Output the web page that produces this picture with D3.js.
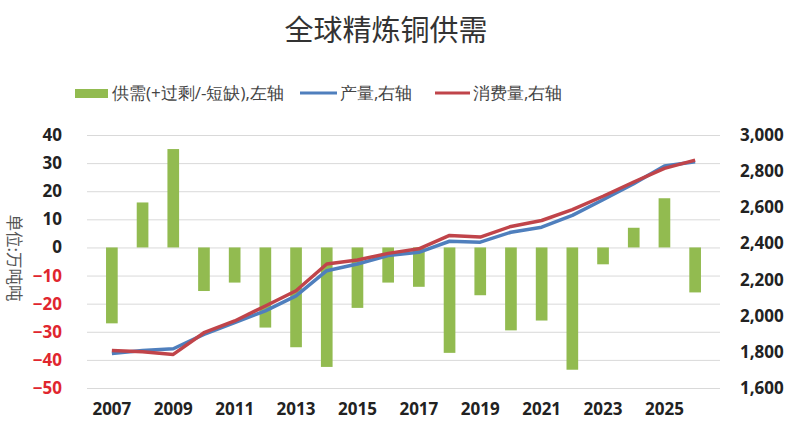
<!DOCTYPE html>
<html>
<head>
<meta charset="utf-8">
<script src="https://cdn.jsdelivr.net/npm/d3@7"></script>
<style>
  body { margin: 0; background: #fff; }
  svg { display: block; }
  text { font-family: "Open Sans", "Liberation Sans", sans-serif; }
  .cjk { font-family: "Noto Sans CJK SC", sans-serif; }
</style>
</head>
<body>
<div id="chart-area"><svg></svg></div>
<script>
const years = d3.range(2007, 2027).map(String);
const balance = [-27, 16, 35, -15.5, -12.5, -28.5, -35.5, -42.5, -21.5, -12.5,
  -14, -37.5, -17, -29.5, -26, -43.5, -6, 7, 17.5, -16];
const production = [1791, 1808, 1817, 1897, 1962, 2027, 2110, 2249, 2286, 2333,
  2351, 2412, 2407, 2462, 2490, 2555, 2642, 2731, 2828, 2852];
const consumption = [1808, 1800, 1786, 1906, 1971, 2054, 2138, 2286, 2308, 2345,
  2370, 2444, 2435, 2494, 2527, 2587, 2661, 2740, 2815, 2861];
const leftTicks = [40, 30, 20, 10, 0, -10, -20, -30, -40, -50];
const rightTicks = [3000, 2800, 2600, 2400, 2200, 2000, 1800, 1600];
const xTickYears = ["2007", "2009", "2011", "2013", "2015", "2017", "2019", "2021", "2023", "2025"];

const chartSize = { width: 800, height: 429 };
const margin = { left: 87, right: 80, top: 135, bottom: 41 };
const width = chartSize.width - margin.left - margin.right;
const height = chartSize.height - margin.top - margin.bottom;

const colors = { bar: "#92bb50", prod: "#4f7fbd", cons: "#c0444a" };

const svg = d3.select("#chart-area svg")
  .attr("width", chartSize.width)
  .attr("height", chartSize.height);

svg.append("text")
  .attr("class", "cjk")
  .attr("x", 386)
  .attr("y", 41)
  .attr("text-anchor", "middle")
  .attr("font-size", 29)
  .attr("fill", "#333")
  .text("全球精炼铜供需");

// legend
const legend = svg.append("g").attr("class", "cjk").attr("font-size", 17).attr("fill", "#444");
legend.append("rect").attr("x", 75).attr("y", 89).attr("width", 33).attr("height", 9).attr("fill", colors.bar);
legend.append("text").attr("x", 112).attr("y", 99).text("供需(+过剩/-短缺),左轴");
legend.append("line").attr("x1", 300).attr("x2", 337).attr("y1", 93).attr("y2", 93)
  .attr("stroke", colors.prod).attr("stroke-width", 3);
legend.append("text").attr("x", 340).attr("y", 99).text("产量,右轴");
legend.append("line").attr("x1", 435).attr("x2", 470).attr("y1", 93).attr("y2", 93)
  .attr("stroke", colors.cons).attr("stroke-width", 3);
legend.append("text").attr("x", 473).attr("y", 99).text("消费量,右轴");

const g = svg.append("g").attr("transform", `translate(${margin.left}, ${margin.top})`);

const x = d3.scaleBand().domain(years).range([0, width]).padding(0.62);
const yL = d3.scaleLinear().domain([-50, 40]).range([height, 0]);
const yR = d3.scaleLinear().domain([1600, 3000]).range([height, 0]);

// gridlines
g.append("g")
  .attr("class", "grid")
  .call(d3.axisLeft(yL).tickValues(leftTicks).tickSize(-width).tickFormat(""))
  .call(a => a.select(".domain").remove())
  .call(a => a.selectAll("line").attr("stroke", "#d9d9d9"));

// left axis
g.append("g")
  .attr("class", "y-axis")
  .call(d3.axisLeft(yL).tickValues(leftTicks).tickSize(0).tickPadding(25))
  .call(a => a.select(".domain").remove())
  .call(a => a.selectAll("text")
    .attr("font-size", 17).attr("font-weight", "bold")
    .attr("fill", d => d < 0 ? "#e0262e" : "#222"));

// right axis
g.append("g")
  .attr("class", "y-axis-right")
  .attr("transform", `translate(${width}, 0)`)
  .call(d3.axisRight(yR).tickValues(rightTicks).tickSize(0).tickPadding(20).tickFormat(d3.format(",")))
  .call(a => a.select(".domain").remove())
  .call(a => a.selectAll("text").attr("font-size", 17).attr("font-weight", "bold").attr("fill", "#222"));

// x axis
g.append("g")
  .attr("class", "x-axis")
  .attr("transform", `translate(0, ${height})`)
  .call(d3.axisBottom(x).tickValues(xTickYears).tickSize(0).tickPadding(15))
  .call(a => a.select(".domain").remove())
  .call(a => a.selectAll("text").attr("font-size", 17).attr("font-weight", "bold").attr("fill", "#222"));

svg.append("text")
  .attr("class", "cjk")
  .attr("transform", "translate(8, 258) rotate(90)")
  .attr("text-anchor", "middle")
  .attr("font-size", 16.5)
  .attr("fill", "#555")
  .text("单位:万吨吨");

// bars
g.selectAll("rect.bar")
  .data(years)
  .enter()
  .append("rect")
  .attr("class", "bar")
  .attr("x", d => x(d))
  .attr("width", x.bandwidth())
  .attr("y", (d, i) => yL(Math.max(0, balance[i])))
  .attr("height", (d, i) => Math.abs(yL(balance[i]) - yL(0)))
  .attr("fill", colors.bar);

const line = d3.line()
  .x((d, i) => x(years[i]) + x.bandwidth() / 2)
  .y(d => yR(d));

g.append("path").datum(production)
  .attr("fill", "none").attr("stroke", colors.prod).attr("stroke-width", 3.5)
  .attr("stroke-linejoin", "round").attr("d", line);
g.append("path").datum(consumption)
  .attr("fill", "none").attr("stroke", colors.cons).attr("stroke-width", 3.5)
  .attr("stroke-linejoin", "round").attr("d", line);
</script>
</body>
</html>
